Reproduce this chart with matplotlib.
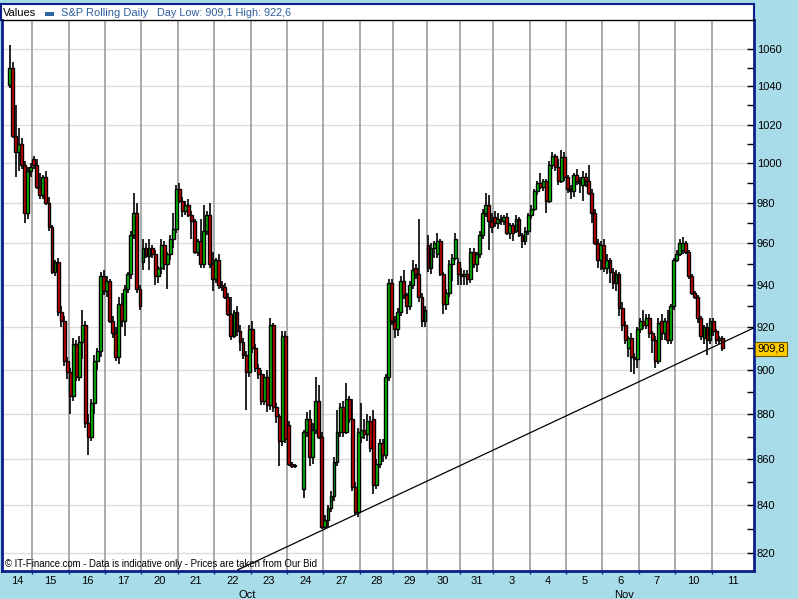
import numpy as np
import matplotlib
matplotlib.use('Agg')
import matplotlib.pyplot as plt
import matplotlib.ticker as ticker
from matplotlib.patches import Rectangle
from matplotlib.transforms import blended_transform_factory

plt.rcParams['font.family'] = ['Liberation Sans', 'DejaVu Sans']

nan = np.nan

# one sub-list per trading day (intraday bars)
day_labels = ['14', '15', '16', '17', '20', '21', '22', '23', '24', '27', '28',
              '29', '30', '31', '3', '4', '5', '6', '7', '10', '11']
month_labels = ['Oct', 'Nov']
days_in_month = [14, 7]

opens = [
    [1041, 1050, 1014, 1006, 1010, 999, 975, 996],
    [1002, 999, 988, 984, 993, 980, 968, 946, 951, 927, 923, 904],
    [899, 888, 912, 897, 913, 921, 876, 870, 885, 904, 909, 944],
    [937, 942, 923, 917, 906, 931, 923, 938, 945, 964, 975, 938],
    [951, 958, 954, 958, 955, 944, 948, 959, 950, 955, 962, 967],
    [987, 981, 976, 979, 974, 971, 956, 961, 950, 966, 974, 950],
    [943, 952, 940, 939, 934, 926, 916, 927, 918, 913, 907, 899],
    [919, 910, 901, 898, 886, 897, 884, 921, 883, 879, 868, 916],
    [875, 858, 857, nan, nan, 847, 872, 878, 861, 873, 886, 870],
    [831, 834, 839, 844, 859, 872, 883, 872, 887, 878, 848, 837],
    [870, 873, 871, 877, 878, 849, 858, 867, 862, 897, 941],
    [923, 919, 927, 942, 935, 930, 940, 948, 945, 934, 923],
    [959, 948, 958, 955, 961, 945, 931, 936, 950, 953, 951],
    [945, 944, 945, 943, 956, 950, 955, 964, 975, 979, 971],
    [973, 970, 972, 971, 973, 965, 969, 966, 972, 964, 961, 966],
    [974, 977, 986, 990, 988, 991, 981, 999, 1004, 998, 991, 1003],
    [993, 987, 986, 994, 991, 989, 993, 991, 985, 975, 960, 952],
    [959, 948, 952, 946, 941, 945, 929, 921, 910, 915, 906, 905],
    [919, 923, 921, 924, 917, 914, 904, 923, 917, 923, 914, 930],
    [952, 955, 957, 960, 956, 944, 936, 934, 924, 915, 920, 914],
    [923, 918, 914, 915],
]
highs = [
    [1062, 1053, 1030, 1018, 1013, 1001, 998, 1000],
    [1004, 1002, 995, 994, 996, 983, 969, 952, 953, 930, 925, 906],
    [901, 915, 914, 916, 928, 923, 880, 887, 907, 910, 946, 947],
    [944, 943, 925, 920, 934, 936, 940, 946, 966, 985, 980, 940],
    [962, 960, 962, 959, 957, 949, 962, 961, 956, 964, 975, 989],
    [990, 983, 981, 982, 976, 972, 962, 972, 979, 976, 980, 956],
    [953, 955, 942, 941, 936, 934, 928, 930, 921, 915, 909, 921],
    [923, 912, 903, 900, 898, 900, 924, 922, 885, 880, 918, 918],
    [877, 859, 858, nan, nan, 873, 881, 882, 876, 897, 893, 872],
    [836, 840, 846, 861, 882, 885, 886, 894, 888, 887, 850, 874],
    [885, 878, 880, 879, 882, 860, 869, 869, 898, 943, 943],
    [925, 929, 944, 947, 936, 942, 952, 950, 972, 936, 930],
    [964, 960, 961, 965, 962, 946, 938, 952, 955, 965, 953],
    [948, 947, 947, 958, 958, 956, 966, 977, 985, 984, 975],
    [976, 975, 974, 974, 975, 970, 970, 974, 973, 965, 968, 975],
    [979, 987, 991, 995, 992, 992, 1001, 1006, 1005, 1002, 1007, 1006],
    [994, 989, 995, 997, 993, 996, 995, 999, 987, 977, 962, 961],
    [962, 955, 953, 948, 947, 946, 932, 923, 916, 917, 908, 920],
    [924, 928, 926, 926, 918, 916, 924, 926, 924, 928, 931, 953],
    [957, 962, 963, 961, 957, 945, 937, 935, 925, 921, 922, 924],
    [924, 919, 916, 916],
]
lows = [
    [1039, 1013, 993, 996, 997, 970, 972, 993],
    [997, 987, 982, 982, 979, 966, 945, 944, 925, 920, 902, 896],
    [880, 886, 895, 895, 905, 874, 862, 868, 880, 900, 906, 935],
    [934, 922, 915, 904, 903, 920, 916, 936, 943, 962, 936, 928],
    [947, 953, 947, 953, 940, 941, 945, 947, 938, 952, 958, 965],
    [980, 973, 974, 973, 962, 955, 954, 948, 948, 964, 948, 937],
    [941, 938, 937, 933, 925, 914, 915, 916, 909, 905, 882, 897],
    [908, 899, 896, 884, 884, 881, 882, 881, 876, 857, 866, 867],
    [857, 856, 856, nan, nan, 843, 870, 857, 858, 871, 869, 830],
    [830, 831, 837, 842, 857, 870, 870, 871, 876, 846, 836, 835],
    [867, 869, 868, 863, 845, 847, 856, 859, 860, 895, 921],
    [915, 916, 925, 933, 926, 928, 938, 943, 932, 920, 920],
    [946, 945, 953, 953, 944, 926, 928, 934, 942, 952, 940],
    [940, 940, 940, 941, 948, 946, 953, 962, 973, 957, 965],
    [968, 967, 969, 969, 964, 962, 961, 965, 963, 958, 959, 964],
    [972, 976, 984, 987, 986, 975, 980, 997, 996, 989, 990, 991],
    [985, 982, 983, 989, 985, 981, 988, 984, 970, 959, 948, 947],
    [946, 945, 941, 938, 937, 925, 918, 912, 906, 899, 898, 901],
    [917, 919, 919, 915, 908, 901, 903, 914, 914, 912, 912, 928],
    [951, 954, 955, 955, 943, 935, 933, 922, 914, 912, 907, 912],
    [916, 912, 912, 909],
]
closes = [
    [1050, 1014, 1006, 1010, 999, 975, 996, 998],
    [999, 988, 984, 993, 980, 968, 946, 951, 927, 923, 904, 899],
    [888, 912, 897, 913, 921, 876, 870, 885, 904, 909, 944, 937],
    [942, 923, 917, 906, 931, 923, 938, 945, 964, 975, 938, 930],
    [958, 954, 958, 955, 944, 948, 959, 950, 955, 962, 967, 987],
    [981, 976, 979, 974, 971, 956, 961, 950, 966, 974, 950, 943],
    [952, 940, 939, 934, 926, 916, 927, 918, 913, 907, 899, 919],
    [910, 901, 898, 886, 897, 884, 921, 883, 879, 868, 916, 869],
    [858, 857, 857, nan, nan, 872, 878, 861, 873, 886, 870, 831],
    [834, 839, 844, 859, 872, 883, 872, 887, 878, 848, 837, 872],
    [873, 871, 877, 865, 849, 858, 867, 862, 897, 941, 923],
    [919, 927, 942, 935, 930, 940, 947, 945, 934, 923, 928],
    [948, 958, 960, 961, 945, 931, 936, 950, 953, 962, 945],
    [944, 945, 943, 956, 950, 955, 964, 975, 979, 971, 968],
    [970, 972, 971, 973, 965, 969, 965, 972, 964, 961, 966, 974],
    [977, 986, 990, 988, 991, 981, 999, 1004, 998, 991, 1003, 993],
    [987, 986, 994, 991, 990, 993, 991, 985, 975, 960, 952, 959],
    [948, 952, 946, 941, 945, 929, 921, 914, 915, 906, 905, 919],
    [923, 921, 924, 917, 914, 904, 922, 917, 923, 914, 930, 952],
    [955, 960, 960, 956, 944, 936, 934, 924, 916, 920, 914, 923],
    [918, 914, 915, 910],
]

last_price = 909.8
day_low, day_high = 909.1, 922.6
# support line (bar index, price) at both ends
trend_x = [75.3, 245.5]
trend_y = [812.9, 919.6]
price_ticks = [820, 840, 860, 880, 900, 920, 940, 960, 980, 1000, 1020, 1040, 1060]
price_minor = [830, 850, 870, 890, 910, 930, 950, 970, 990, 1010, 1030, 1050]

BG = '#a9dce9'
NAVY = '#0b1e8a'
UP = '#00c400'
DOWN = '#d00000'
W, H = 798, 599


def fx(px):
    return px / W


def fy(py):
    return 1 - py / H


o = np.array([v for d in opens for v in d], dtype=float)
h = np.array([v for d in highs for v in d], dtype=float)
l = np.array([v for d in lows for v in d], dtype=float)
c = np.array([v for d in closes for v in d], dtype=float)
x = np.arange(len(c))
ok = ~np.isnan(c)

counts = [len(d) for d in closes]
edges = np.cumsum(counts) - 0.5
bounds = edges[:-1]
xmin, xmax = -2.49, 245.5

fig = plt.figure(figsize=(W / 100, H / 100), dpi=100, facecolor=BG)

# header strip
hdr = fig.add_axes([fx(1), fy(20), fx(753), 16.5 / H])
hdr.set_facecolor('white')
hdr.set_xticks([])
hdr.set_yticks([])
for s in ['left', 'top', 'right']:
    hdr.spines[s].set_color(NAVY)
    hdr.spines[s].set_linewidth(1.5)
hdr.spines['bottom'].set_visible(False)

fig.text(fx(3), fy(12.5), 'Values', fontsize=8, color='black', va='center')
fig.patches.append(Rectangle((fx(45), fy(15.5)), fx(9), 3.5 / H,
                             transform=fig.transFigure, facecolor='#2f64a3',
                             edgecolor='none'))
fig.text(fx(61), fy(12.5), 'S&P Rolling Daily', fontsize=8, color='#2f5f9e',
         va='center')
fig.text(fx(157), fy(12.5),
         f'Day Low: {day_low:.1f}'.replace('.', ',') +
         f' High: {day_high:.1f}'.replace('.', ','),
         fontsize=7.8, color='#2f5f9e', va='center')

ax = fig.add_axes([fx(2), 1 - 571 / H, fx(752), 551 / H])
ax.set_facecolor('white')
ax.set_yscale('log')
ax.set_xlim(xmin, xmax)
ax.set_ylim(812.4, 1075.8)

for p in price_ticks:
    ax.axhline(p, color='#dcdcdc', lw=1, zorder=0)
for b in bounds:
    ax.axvline(b, color='#a4a4a4', lw=1.3, zorder=0)

# candles
ax.vlines(x[ok], l[ok], h[ok], color='black', lw=1.2, zorder=2)
body_lo = np.minimum(o, c)
body_h = np.maximum(np.abs(c - o), 0.7)
cols = np.where(c >= o, UP, DOWN)
ax.bar(x[ok], body_h[ok], bottom=body_lo[ok], width=0.95,
       color=cols[ok], edgecolor='black', linewidth=1.0, zorder=3)

ax.plot(trend_x, trend_y, color='black', lw=0.9, zorder=4)

# axes styling
ax.yaxis.tick_right()
ax.yaxis.set_major_locator(ticker.FixedLocator(price_ticks))
ax.yaxis.set_minor_locator(ticker.FixedLocator(price_minor))
ax.yaxis.set_major_formatter(ticker.FuncFormatter(lambda v, _: f'{v:.0f}'))
ax.yaxis.set_minor_formatter(ticker.NullFormatter())
ax.tick_params(axis='y', which='both', direction='in', length=5, width=1,
               color='black', labelsize=8, pad=2, labelcolor='black')
ax.set_xticks(bounds)
ax.set_xticklabels([])
ax.tick_params(axis='x', direction='out', length=2.5, width=1, color=NAVY)

for s in ['left', 'right', 'bottom']:
    ax.spines[s].set_color(NAVY)
    ax.spines[s].set_linewidth(2)
ax.spines['top'].set_color('black')
ax.spines['top'].set_linewidth(1)

# day and month labels
tr = blended_transform_factory(ax.transData, ax.transAxes)
starts = np.concatenate([[xmin], bounds])
ends = np.concatenate([bounds, [xmax]])
for lab, a, b in zip(day_labels, starts, ends):
    ax.text((a + b) / 2, -0.019, lab, transform=tr, ha='center', va='center',
            fontsize=8, clip_on=False)
m_edges = [xmin, bounds[days_in_month[0] - 1], xmax]
for i, lab in enumerate(month_labels):
    ax.text((m_edges[i] + m_edges[i + 1]) / 2, -0.043, lab, transform=tr,
            ha='center', va='center', fontsize=8, clip_on=False)

# last price tag
tr_y = blended_transform_factory(ax.transAxes, ax.transData)
ax.text(1.0045, last_price, f'{last_price:.1f}'.replace('.', ','),
        transform=tr_y, ha='left', va='center', fontsize=8, color='black',
        clip_on=False, zorder=6,
        bbox=dict(boxstyle='square,pad=0.2', facecolor='#ffcc00',
                  edgecolor='#6b5a00', linewidth=0.8))

ax.text(0.004, 0.013,
        '\u00a9 IT-Finance.com - Data is indicative only - Prices are taken from Our Bid',
        transform=ax.transAxes, ha='left', va='center', fontsize=6.9,
        color='black', zorder=5)

fig.savefig('out.png', dpi=100, facecolor=BG)
